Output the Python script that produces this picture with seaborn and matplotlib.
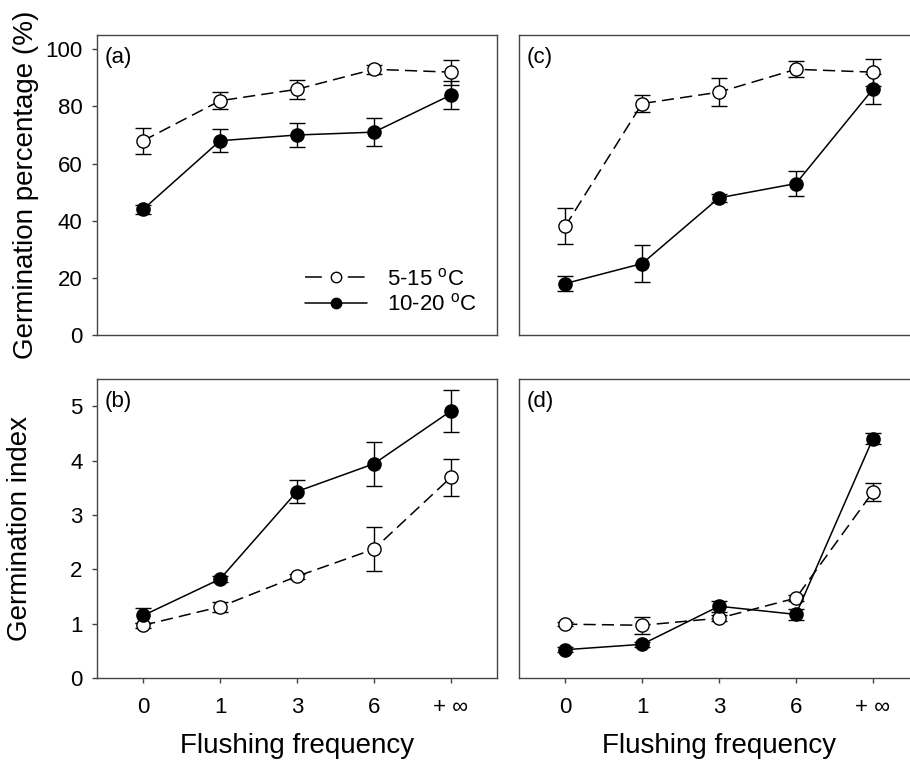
import numpy as np
import pandas as pd
import matplotlib
matplotlib.use('Agg')
import matplotlib.pyplot as plt
from matplotlib.lines import Line2D
import seaborn as sns

# flushing frequency categories
freq = ['0', '1', '3', '6', '+ \u221e']
temps = ['5-15', '10-20']

# germination percentage, panel (a)
pct_a_low = [68, 82, 86, 93, 92]
pct_a_low_err = [4.6, 3.0, 3.3, 1.5, 4.4]
pct_a_high = [44, 68, 70, 71, 84]
pct_a_high_err = [1.5, 4.0, 4.3, 5.0, 4.9]

# germination percentage, panel (c)
pct_c_low = [38, 81, 85, 93, 92]
pct_c_low_err = [6.3, 3.0, 5.0, 2.8, 4.7]
pct_c_high = [18, 25, 48, 53, 86]
pct_c_high_err = [2.7, 6.4, 1.5, 4.5, 5.3]

# germination index, panel (b)
gi_b_low = [0.97, 1.31, 1.87, 2.37, 3.69]
gi_b_low_err = [0.05, 0.09, 0.04, 0.41, 0.34]
gi_b_high = [1.15, 1.82, 3.43, 3.94, 4.91]
gi_b_high_err = [0.13, 0.05, 0.22, 0.41, 0.38]

# germination index, panel (d)
gi_d_low = [0.99, 0.97, 1.10, 1.47, 3.42]
gi_d_low_err = [0.04, 0.16, 0.05, 0.05, 0.17]
gi_d_high = [0.52, 0.62, 1.32, 1.17, 4.40]
gi_d_high_err = [0.05, 0.05, 0.10, 0.10, 0.10]

sns.set_style('ticks')
plt.rcParams['font.family'] = ['Liberation Sans', 'DejaVu Sans']
plt.rcParams['mathtext.fontset'] = 'custom'
plt.rcParams['mathtext.rm'] = 'Liberation Sans'
plt.rcParams['mathtext.it'] = 'Liberation Sans'
plt.rcParams['text.color'] = 'black'
plt.rcParams['axes.labelcolor'] = 'black'
plt.rcParams['xtick.color'] = 'black'
plt.rcParams['ytick.color'] = 'black'

W, H = 910, 764
fig = plt.figure(figsize=(W / 100, H / 100), dpi=100)


def px_axes(left, top, right, bottom):
    return fig.add_axes([left / W, 1 - bottom / H, (right - left) / W, (bottom - top) / H])


def make_df(low, low_err, high, high_err):
    rows = []
    for i, f in enumerate(freq):
        rows.append([i, f, low[i], low_err[i], temps[0]])
        rows.append([i, f, high[i], high_err[i], temps[1]])
    return pd.DataFrame(rows, columns=['pos', 'freq', 'val', 'err', 'temp'])


def draw(ax, df):
    styles = {temps[0]: dict(mfc='white', dashes=(8, 4)),
              temps[1]: dict(mfc='black', dashes=None)}
    for t in temps:
        d = df[df['temp'] == t]
        ax.errorbar(d['pos'], d['val'], yerr=d['err'], fmt='none', ecolor='black',
                    elinewidth=1.0, capsize=5.5, capthick=1.0, zorder=2)
        sns.lineplot(data=d, x='pos', y='val', ax=ax, color='black', lw=1.1,
                     marker='o', markersize=9.5, markerfacecolor=styles[t]['mfc'],
                     markeredgecolor='black', markeredgewidth=1.0, zorder=3,
                     legend=False, errorbar=None)
        if styles[t]['dashes'] is not None:
            ax.lines[-1].set_dashes(styles[t]['dashes'])
    ax.set_xlim(-0.6, 4.6)
    ax.set_xlabel('')
    ax.set_ylabel('')
    for s in ax.spines.values():
        s.set_visible(True)
        s.set_color('#444444')
        s.set_linewidth(1.0)
    ax.tick_params(direction='out', length=3.5, width=1.0, color='#444444',
                   labelcolor='black', labelsize=16, pad=7)


ax_a = px_axes(97, 35, 497, 335)
ax_c = px_axes(519, 35, 919, 335)
ax_b = px_axes(97, 379, 497, 678)
ax_d = px_axes(519, 379, 919, 678)

draw(ax_a, make_df(pct_a_low, pct_a_low_err, pct_a_high, pct_a_high_err))
draw(ax_c, make_df(pct_c_low, pct_c_low_err, pct_c_high, pct_c_high_err))
draw(ax_b, make_df(gi_b_low, gi_b_low_err, gi_b_high, gi_b_high_err))
draw(ax_d, make_df(gi_d_low, gi_d_low_err, gi_d_high, gi_d_high_err))

for ax in (ax_a, ax_c):
    ax.set_ylim(0, 105)
    ax.set_yticks([0, 20, 40, 60, 80, 100])
    ax.set_xticks([])
for ax in (ax_b, ax_d):
    ax.set_ylim(0, 5.5)
    ax.set_yticks([0, 1, 2, 3, 4, 5])
    ax.set_xticks(range(len(freq)))
    ax.set_xticklabels(freq)
    ax.tick_params(axis='x', pad=10)
    ax.set_xlabel('Flushing frequency', fontsize=20)
    ax.xaxis.set_label_coords(0.5, -0.185)
for ax in (ax_c, ax_d):
    ax.tick_params(axis='y', left=False, labelleft=False)

ax_a.set_ylabel('Germination percentage (%)', fontsize=20)
ax_a.yaxis.set_label_coords(-0.145, 0.5)
ax_b.set_ylabel('Germination index', fontsize=20)
ax_b.yaxis.set_label_coords(-0.16, 0.5)

for ax, lab in zip((ax_a, ax_b, ax_c, ax_d), ['(a)', '(b)', '(c)', '(d)']):
    ax.text(0.018, 0.96, lab, transform=ax.transAxes, ha='left', va='top', fontsize=16)

handles = [
    Line2D([], [], color='black', lw=1.1, dashes=(11, 17), marker='o', markersize=7.5,
           markerfacecolor='white', markeredgecolor='black'),
    Line2D([], [], color='black', lw=1.1, marker='o', markersize=7.5,
           markerfacecolor='black', markeredgecolor='black'),
]
labels = [r'5-15 $^{\mathrm{o}}$C', r'10-20 $^{\mathrm{o}}$C']
ax_a.legend(handles, labels, loc='lower left', bbox_to_anchor=(0.52, 0.065),
            frameon=False, fontsize=16, handlelength=2.8, handletextpad=0.9,
            labelspacing=0.15, borderpad=0, borderaxespad=0)

fig.savefig('out.png', dpi=100)
